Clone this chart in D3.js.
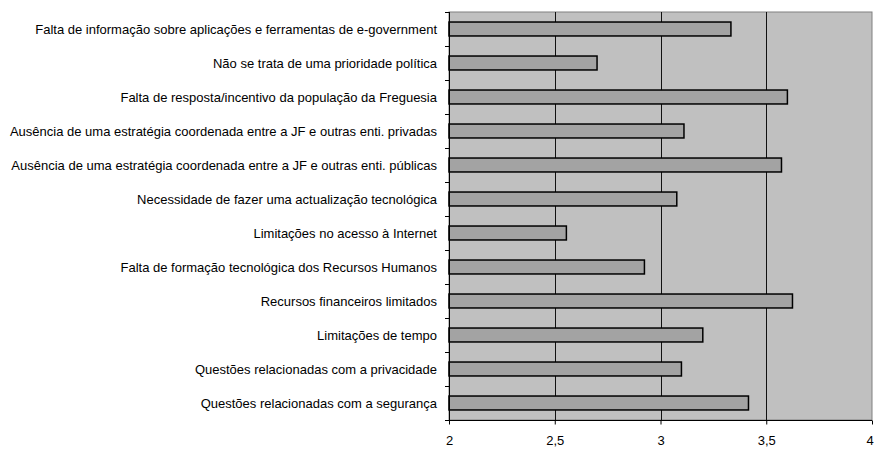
<!DOCTYPE html>
<html>
<head>
<meta charset="utf-8">
<script src="https://cdn.jsdelivr.net/npm/d3@7"></script>
<style>
html,body{margin:0;padding:0;background:#fff;overflow:hidden;}
svg{display:block;font-family:"Liberation Sans",Arial,sans-serif;}
</style>
</head>
<body>
<svg id="chart" width="875" height="449"></svg>
<script>
const categories = [
  "Falta de informação sobre aplicações e ferramentas de e-government",
  "Não se trata de uma prioridade política",
  "Falta de resposta/incentivo da população da Freguesia",
  "Ausência de uma estratégia coordenada entre a JF e outras enti. privadas",
  "Ausência de uma estratégia coordenada entre a JF e outras enti. públicas",
  "Necessidade de fazer uma actualização tecnológica",
  "Limitações no acesso à Internet",
  "Falta de formação tecnológica dos Recursos Humanos",
  "Recursos financeiros limitados",
  "Limitações de tempo",
  "Questões relacionadas com a privacidade",
  "Questões relacionadas com a segurança"
];
const values = [3.333, 2.70, 3.60, 3.111, 3.572, 3.077, 2.555, 2.924, 3.624, 3.20, 3.099, 3.416];
const xTicks = [2, 2.5, 3, 3.5, 4];
const xTickLabels = ["2", "2,5", "3", "3,5", "4"];

(function () {
const svg = d3.select("#chart");
const pL = 449, pR = 872, pT = 12, pB = 420;

const x = d3.scaleLinear().domain([2, 4]).range([pL, pR]);
const y = d3.scaleBand().domain(categories).range([pT, pB]).paddingInner(0.59).paddingOuter(0.295);

// plot background
svg.append("rect").attr("x", pL).attr("y", pT).attr("width", pR - pL).attr("height", pB - pT)
  .attr("fill", "#c0c0c0").attr("stroke", "#808080").attr("stroke-width", 1);

// gridlines
svg.append("g").selectAll("line").data(xTicks.slice(1, -1)).join("line")
  .attr("x1", d => Math.round(x(d)) + 0.5).attr("x2", d => Math.round(x(d)) + 0.5)
  .attr("y1", pT).attr("y2", pB)
  .attr("stroke", "#111").attr("stroke-width", 1);

// bars
svg.append("g").selectAll("rect").data(values).join("rect")
  .attr("x", x(2))
  .attr("y", (d, i) => y(categories[i]))
  .attr("width", d => x(d) - x(2))
  .attr("height", y.bandwidth())
  .attr("fill", "#a3a3a3").attr("stroke", "#000").attr("stroke-width", 1.5);

// y axis
const yEdges = d3.range(categories.length + 1).map(i => pT + i * (pB - pT) / categories.length);
svg.append("line").attr("x1", pL + 0.5).attr("x2", pL + 0.5).attr("y1", pT).attr("y2", pB)
  .attr("stroke", "#000");
svg.append("g").selectAll("line").data(yEdges).join("line")
  .attr("x1", pL - 4).attr("x2", pL).attr("y1", d => Math.round(d) + 0.5).attr("y2", d => Math.round(d) + 0.5)
  .attr("stroke", "#000");
svg.append("g").selectAll("text").data(categories).join("text")
  .attr("x", 437).attr("y", d => y(d) + y.bandwidth() / 2)
  .attr("dy", "0.35em").attr("text-anchor", "end")
  .attr("font-size", "13px").attr("fill", "#000").text(d => d);

// x axis
const xAxis = d3.axisBottom(x).tickValues(xTicks).tickFormat((d, i) => xTickLabels[i]).tickSize(4).tickPadding(11);
const gx = svg.append("g").attr("transform", `translate(0,${pB + 0.5})`).call(xAxis);
gx.select(".domain").attr("stroke", "#000").attr("d", `M${pL},0H${pR}`);
gx.selectAll(".tick line").attr("stroke", "#000");
gx.selectAll(".tick text").attr("font-size", "13px").attr("font-family", "Liberation Sans, Arial, sans-serif").attr("fill", "#000");
gx.selectAll(".tick").filter(d => d === 4).select("text").attr("text-anchor", "end").attr("dx", "0.1em");
})();
</script>
</body>
</html>
